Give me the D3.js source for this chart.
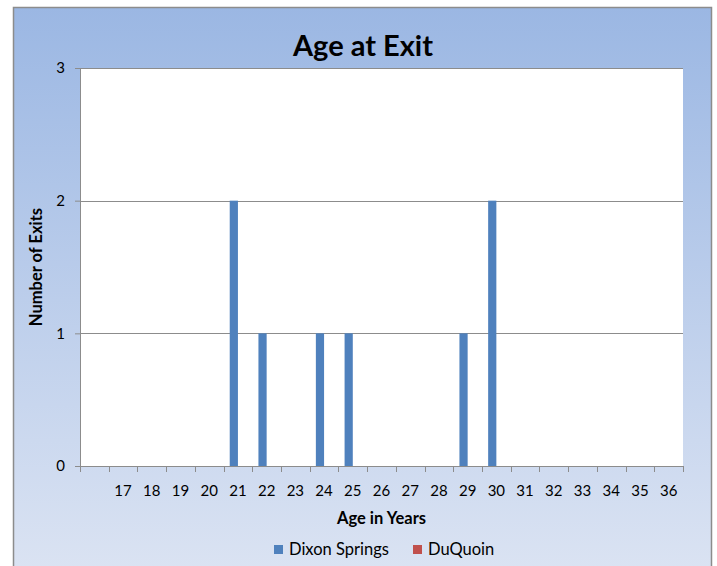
<!DOCTYPE html>
<html>
<head>
<meta charset="utf-8">
<script src="https://cdn.jsdelivr.net/npm/d3@7"></script>
<style>
  body { margin: 0; background: #fff; }
  svg { display: block; }
</style>
</head>
<body>
<div class="chart"></div>
<script>
const ages = ['', '17', '18', '19', '20', '21', '22', '23', '24', '25', '26', '27', '28', '29', '30', '31', '32', '33', '34', '35', '36']
const seriesNames = ['Dixon Springs', 'DuQuoin']
const dixonSprings = [0, 0, 0, 0, 0, 2, 1, 0, 1, 1, 0, 0, 0, 1, 2, 0, 0, 0, 0, 0, 0]
const duQuoin = [0, 0, 0, 0, 0, 0, 0, 0, 0, 0, 0, 0, 0, 0, 0, 0, 0, 0, 0, 0, 0]
const yTicks = [0, 1, 2, 3]
const colors = ['#4F81BD', '#C0504D']

const width = 717
const height = 566
const margin = {top: 68, right: 34, bottom: 100, left: 80}
const graphWidth = width - margin.left - margin.right
const graphHeight = height - margin.top - margin.bottom
const font = 'Lato, "Open Sans", sans-serif'

const data = ages.map((a, i) => ({age: a, values: [dixonSprings[i], duQuoin[i]]}))

const svg = d3.select('.chart')
  .append('svg')
  .attr('width', width)
  .attr('height', height)

const defs = svg.append('defs')
const grad = defs.append('linearGradient')
  .attr('id', 'bg')
  .attr('x1', 0).attr('y1', 0).attr('x2', 0).attr('y2', 1)
grad.append('stop').attr('offset', '0%').attr('stop-color', '#9BB7E3')
grad.append('stop').attr('offset', '100%').attr('stop-color', '#DCE4F3')

// outer frame
svg.append('rect')
  .attr('x', 13.5)
  .attr('y', 7.5)
  .attr('width', 698)
  .attr('height', 575)
  .attr('fill', 'url(#bg)')
  .attr('stroke', '#8C8C8C')
  .attr('stroke-width', 1.5)

const graph = svg.append('g')
  .attr('transform', `translate(${margin.left}, ${margin.top})`)

graph.append('rect')
  .attr('width', graphWidth)
  .attr('height', graphHeight)
  .attr('fill', '#fff')

const xScale = d3.scaleBand()
  .domain(ages)
  .range([0, graphWidth])
  .paddingInner(0)
  .paddingOuter(0)

const xSub = d3.scaleBand()
  .domain(seriesNames)
  .range([0, xScale.bandwidth()])
  .paddingInner(0)
  .paddingOuter(0.75)

const yScale = d3.scaleLinear()
  .domain([0, 3])
  .range([graphHeight, 0])

// gridlines
graph.append('g')
  .selectAll('line')
  .data(yTicks.slice(1))
  .enter()
  .append('line')
  .attr('x1', 0)
  .attr('x2', graphWidth)
  .attr('y1', d => Math.round(yScale(d)) + 0.5)
  .attr('y2', d => Math.round(yScale(d)) + 0.5)
  .attr('stroke', '#8C8C8C')
  .attr('stroke-width', 1)

// bars
const groups = graph.selectAll('.grp')
  .data(data)
  .enter()
  .append('g')
  .attr('transform', d => `translate(${xScale(d.age)}, 0)`)

groups.selectAll('rect')
  .data(d => d.values.map((v, i) => ({name: seriesNames[i], value: v})))
  .enter()
  .append('rect')
  .attr('x', d => xSub(d.name))
  .attr('width', xSub.bandwidth())
  .attr('y', d => yScale(d.value))
  .attr('height', d => graphHeight - yScale(d.value))
  .attr('fill', (d, i) => colors[i])

// y axis
const yAxis = d3.axisLeft(yScale)
  .tickValues(yTicks)
  .tickFormat(d3.format('d'))
  .tickSize(5)
  .tickPadding(10)
const yAxisGroup = graph.append('g').call(yAxis)
yAxisGroup.select('.domain').attr('stroke', '#8C8C8C').attr('d', `M-5,0.5H0.5V${graphHeight}`)
yAxisGroup.selectAll('.tick line').attr('stroke', '#8C8C8C')
yAxisGroup.selectAll('text')
  .attr('font-family', font)
  .attr('font-size', '15px')
  .attr('fill', '#000')

// x axis
const xAxis = d3.axisBottom(xScale)
  .tickSize(0)
  .tickPadding(19)
const xAxisGroup = graph.append('g')
  .attr('transform', `translate(0, ${graphHeight})`)
  .call(xAxis)
xAxisGroup.select('.domain').attr('stroke', '#8C8C8C').attr('d', `M0,0.5H${graphWidth}`)
xAxisGroup.selectAll('text')
  .attr('font-family', font)
  .attr('font-size', '15px')
  .attr('fill', '#000')

// category tick marks on boundaries
xAxisGroup.append('g')
  .selectAll('line')
  .data(ages.map(a => xScale(a)).concat([graphWidth]))
  .enter()
  .append('line')
  .attr('x1', d => Math.round(d) + 0.5)
  .attr('x2', d => Math.round(d) + 0.5)
  .attr('y1', 0)
  .attr('y2', 6)
  .attr('stroke', '#8C8C8C')

// title
svg.append('text')
  .text('Age at Exit')
  .attr('x', 363)
  .attr('y', 56)
  .attr('text-anchor', 'middle')
  .attr('font-family', font)
  .attr('font-weight', 'bold')
  .attr('font-size', '29px')

// axis titles
svg.append('text')
  .text('Age in Years')
  .attr('x', margin.left + graphWidth / 2)
  .attr('y', 524)
  .attr('text-anchor', 'middle')
  .attr('font-family', font)
  .attr('font-weight', 'bold')
  .attr('font-size', '16.5px')

svg.append('text')
  .text('Number of Exits')
  .attr('transform', `translate(42, ${margin.top + graphHeight / 2}) rotate(-90)`)
  .attr('text-anchor', 'middle')
  .attr('font-family', font)
  .attr('font-weight', 'bold')
  .attr('font-size', '16.5px')

// legend
const legend = svg.append('g')
  .attr('transform', 'translate(274, 545)')
const legendX = [0, 139]
seriesNames.forEach((name, i) => {
  const item = legend.append('g').attr('transform', `translate(${legendX[i]}, 0)`)
  item.append('rect')
    .attr('width', 9)
    .attr('height', 9)
    .attr('fill', colors[i])
  item.append('text')
    .text(name)
    .attr('x', 15)
    .attr('y', 4.5)
    .attr('dy', '.35em')
    .attr('font-family', font)
    .attr('font-size', '16.5px')
})
</script>
</body>
</html>
